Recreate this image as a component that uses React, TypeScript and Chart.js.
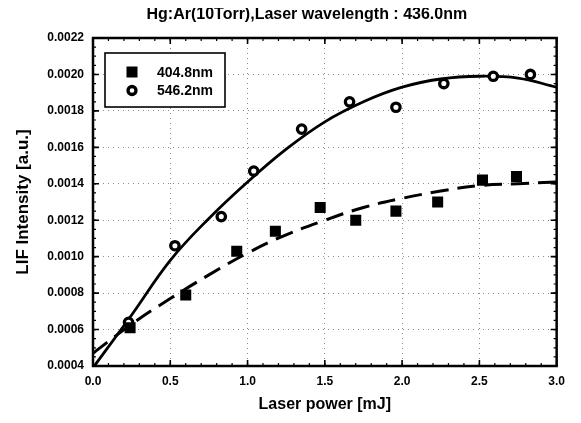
import React, { useEffect, useRef } from 'react';
import { Chart, registerables } from 'chart.js';

Chart.register(...registerables);

const TITLE = 'Hg:Ar(10Torr),Laser wavelength : 436.0nm';
const X_TITLE = 'Laser power [mJ]';
const Y_TITLE = 'LIF Intensity [a.u.]';
const SERIES_LABELS = ['404.8nm', '546.2nm'];

// 404.8 nm (filled squares)
const squareX = [0.24, 0.6, 0.93, 1.18, 1.47, 1.7, 1.96, 2.23, 2.52, 2.74];
const squareY = [0.00061, 0.00079, 0.00103, 0.00114, 0.00127, 0.0012, 0.00125, 0.0013, 0.00142, 0.00144];

// 546.2 nm (open circles)
const circleX = [0.23, 0.53, 0.83, 1.04, 1.35, 1.66, 1.96, 2.27, 2.59, 2.83];
const circleY = [0.00064, 0.00106, 0.00122, 0.00147, 0.0017, 0.00185, 0.00182, 0.00195, 0.00199, 0.002];

// fitted curves
const fitX = [0, 0.25, 0.5, 0.75, 1.0, 1.25, 1.5, 1.75, 2.0, 2.25, 2.5, 2.75, 3.0];
const fitSolidY = [0.00039, 0.00068, 0.00098, 0.00121, 0.00141, 0.00159, 0.00174, 0.00185, 0.00193, 0.001975, 0.00199, 0.00198, 0.00193];
const fitDashY = [0.00047, 0.00063, 0.00077, 0.0009, 0.00102, 0.00112, 0.0012, 0.00127, 0.00132, 0.00136, 0.00139, 0.0014, 0.00141];

const X_TICKS = [0, 0.5, 1.0, 1.5, 2.0, 2.5, 3.0];
const Y_TICKS = [0.0004, 0.0006, 0.0008, 0.001, 0.0012, 0.0014, 0.0016, 0.0018, 0.002, 0.0022];
const X_MINOR_STEP = 0.1;
const Y_MINOR_STEP = 0.00005;

const FONT = "'Liberation Sans', Arial, sans-serif";

const pts = (xs: number[], ys: number[]) => xs.map((x, i) => ({ x, y: ys[i] }));

const framePlugin = {
  id: 'frameTicksLegendTitle',
  afterDraw(chart: any) {
    const { ctx, chartArea } = chart;
    const { left, right, top, bottom } = chartArea;
    const xs = chart.scales.x;
    const ys = chart.scales.y;
    ctx.save();
    ctx.strokeStyle = '#000';
    // minor ticks
    ctx.lineWidth = 1.2;
    const nX = Math.round((xs.max - xs.min) / X_MINOR_STEP);
    for (let i = 0; i <= nX; i++) {
      const px = xs.getPixelForValue(xs.min + i * X_MINOR_STEP);
      ctx.beginPath();
      ctx.moveTo(px, bottom); ctx.lineTo(px, bottom - 3);
      ctx.moveTo(px, top); ctx.lineTo(px, top + 3);
      ctx.stroke();
    }
    const nY = Math.round((ys.max - ys.min) / Y_MINOR_STEP);
    for (let i = 0; i <= nY; i++) {
      const py = ys.getPixelForValue(ys.min + i * Y_MINOR_STEP);
      ctx.beginPath();
      ctx.moveTo(left, py); ctx.lineTo(left + 3, py);
      ctx.moveTo(right, py); ctx.lineTo(right - 3, py);
      ctx.stroke();
    }
    // major ticks
    ctx.lineWidth = 1.6;
    X_TICKS.forEach((v) => {
      const px = xs.getPixelForValue(v);
      ctx.beginPath();
      ctx.moveTo(px, bottom); ctx.lineTo(px, bottom - 6);
      ctx.moveTo(px, top); ctx.lineTo(px, top + 6);
      ctx.stroke();
    });
    Y_TICKS.forEach((v) => {
      const py = ys.getPixelForValue(v);
      ctx.beginPath();
      ctx.moveTo(left, py); ctx.lineTo(left + 6, py);
      ctx.moveTo(right, py); ctx.lineTo(right - 6, py);
      ctx.stroke();
    });
    // frame
    ctx.lineWidth = 2.5;
    ctx.strokeRect(left, top, right - left, bottom - top);

    // legend
    const lx = left + 12;
    const ly = top + 15;
    const lw = 120;
    const lh = 54;
    ctx.fillStyle = '#fff';
    ctx.fillRect(lx, ly, lw, lh);
    ctx.lineWidth = 1.6;
    ctx.strokeRect(lx, ly, lw, lh);
    const ds = chart.data.datasets;
    const rowY = [ly + 19, ly + 37.5];
    const mx = lx + 27;
    // square
    ctx.fillStyle = '#000';
    ctx.fillRect(mx - 5.5, rowY[0] - 5.5, 11, 11);
    // circle
    ctx.beginPath();
    ctx.arc(mx, rowY[1], 4, 0, Math.PI * 2);
    ctx.fillStyle = '#fff';
    ctx.fill();
    ctx.lineWidth = 3.3;
    ctx.strokeStyle = '#000';
    ctx.stroke();
    ctx.fillStyle = '#000';
    ctx.font = `bold 14px ${FONT}`;
    ctx.textAlign = 'left';
    ctx.textBaseline = 'middle';
    ctx.fillText(ds[0].label, lx + 52, rowY[0] + 1);
    ctx.fillText(ds[1].label, lx + 52, rowY[1] + 1);

    // title
    ctx.font = `bold 16px ${FONT}`;
    ctx.textAlign = 'center';
    ctx.textBaseline = 'middle';
    ctx.fillText(TITLE, (left + right) / 2 - 18, 7);
    ctx.restore();
  },
};

export default function App() {
  const ref = useRef<HTMLCanvasElement | null>(null);
  useEffect(() => {
    if (!ref.current) return;
    const chart = new Chart(ref.current, {
      type: 'scatter',
      data: {
        datasets: [
          {
            label: SERIES_LABELS[0],
            data: pts(squareX, squareY),
            pointStyle: 'rect',
            pointRadius: 7.8,
            pointBackgroundColor: '#000',
            pointBorderColor: '#000',
            pointBorderWidth: 0,
            showLine: false,
            order: 0,
          },
          {
            label: SERIES_LABELS[1],
            data: pts(circleX, circleY),
            pointStyle: 'circle',
            pointRadius: 4.2,
            pointBackgroundColor: '#fff',
            pointBorderColor: '#000',
            pointBorderWidth: 3.3,
            showLine: false,
            order: 0,
          },
          {
            label: 'fit 546.2nm',
            data: pts(fitX, fitSolidY),
            showLine: true,
            borderColor: '#000',
            borderWidth: 2.8,
            pointRadius: 0,
            tension: 0.4,
            order: 1,
          },
          {
            label: 'fit 404.8nm',
            data: pts(fitX, fitDashY),
            showLine: true,
            borderColor: '#000',
            borderWidth: 3,
            borderDash: [18, 9],
            pointRadius: 0,
            tension: 0.4,
            order: 1,
          },
        ],
      },
      options: {
        animation: false,
        responsive: false,
        devicePixelRatio: 1,
        layout: { padding: { top: 30, right: 11, left: 0, bottom: 0 } },
        plugins: {
          legend: { display: false },
          tooltip: { enabled: false },
          title: { display: false },
        },
        scales: {
          x: {
            type: 'linear',
            min: 0,
            max: 3,
            afterBuildTicks: (s: any) => { s.ticks = X_TICKS.map((v) => ({ value: v })); },
            afterFit: (s: any) => { s.height = 49; },
            ticks: {
              callback: (v: any) => Number(v).toFixed(1),
              font: { family: FONT, size: 12, weight: 'bold' },
              color: '#000',
              padding: 8,
              maxRotation: 0,
              autoSkip: false,
            },
            grid: { color: '#8a8a8a', lineWidth: 1, drawTicks: false },
            border: { display: false, dash: [1, 4] },
            title: {
              display: true,
              text: X_TITLE,
              color: '#000',
              font: { family: FONT, size: 16, weight: 'bold' },
              padding: { top: 0, bottom: 1 },
            },
          },
          y: {
            type: 'linear',
            min: 0.0004,
            max: 0.0022,
            afterBuildTicks: (s: any) => { s.ticks = Y_TICKS.map((v) => ({ value: v })); },
            afterFit: (s: any) => { s.width = 85; },
            ticks: {
              callback: (v: any) => Number(v).toFixed(4),
              font: { family: FONT, size: 12, weight: 'bold' },
              color: '#000',
              padding: 9,
              autoSkip: false,
            },
            grid: { color: '#8a8a8a', lineWidth: 1, drawTicks: false },
            border: { display: false, dash: [1, 4] },
            title: {
              display: true,
              text: Y_TITLE,
              color: '#000',
              font: { family: FONT, size: 17, weight: 'bold' },
              padding: { top: 5, bottom: 0 },
            },
          },
        },
      },
      plugins: [framePlugin],
    } as any);
    return () => chart.destroy();
  }, []);
  return <canvas ref={ref} width={565} height={407} style={{ display: 'block' }} />;
}
